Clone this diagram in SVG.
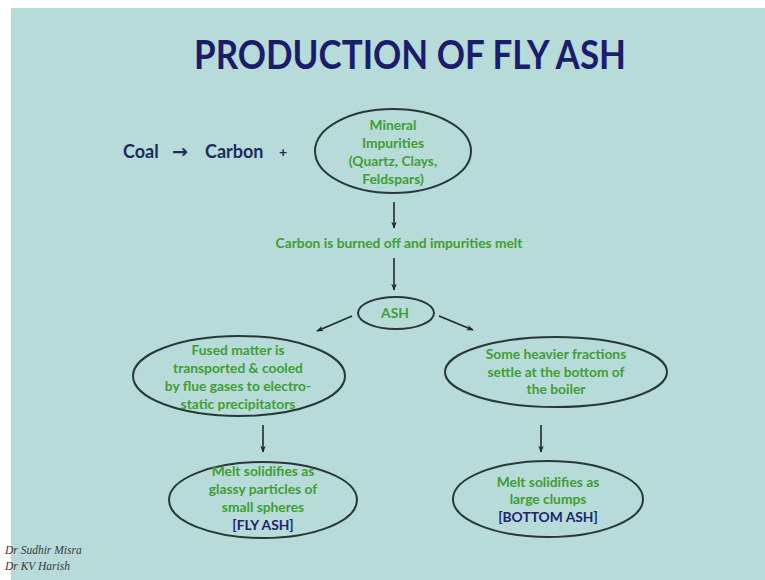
<svg xmlns="http://www.w3.org/2000/svg" width="765" height="580" viewBox="0 0 765 580">
<defs>
<marker id="ah" viewBox="0 0 10 10" refX="9" refY="5" markerWidth="7" markerHeight="7" orient="auto" markerUnits="userSpaceOnUse">
<path d="M0,1 L10,5 L0,9 L3,5 Z" fill="#1e2a2a"/>
</marker>
<style>
.bg{fill:#b6dbd8}
.el{fill:none;stroke:#283838;stroke-width:2}
.g{font-family:Lato,"Open Sans","DejaVu Sans",sans-serif;font-weight:bold;font-size:13.8px;fill:#3f9e32;text-anchor:middle}
.n{font-family:Lato,"Open Sans","DejaVu Sans",sans-serif;font-weight:bold;font-size:13.8px;fill:#1e2470;text-anchor:middle}
.c{stroke:#1e2a2a;stroke-width:1.6;fill:none;marker-end:url(#ah)}
.t{font-family:Lato,"Open Sans",sans-serif;font-weight:bold;font-size:40px;fill:#1c1c6c;text-anchor:middle}
.f{font-family:"Liberation Serif","Times New Roman",serif;font-style:italic;font-size:11.5px;fill:#3a3a3a}
.k{font-family:Lato,"DejaVu Sans",sans-serif;font-weight:bold;font-size:18px;fill:#1f2a5e}
</style>
</defs>
<rect width="765" height="580" fill="#ffffff"/>
<rect class="bg" x="11" y="8" width="754" height="572"/>
<text class="t" x="410" y="69" textLength="432" lengthAdjust="spacingAndGlyphs">PRODUCTION OF FLY ASH</text>
<g id="coal">
<text class="k" x="123" y="158">Coal</text>
<text class="k" x="172" y="158" style="font-family:'DejaVu Sans',sans-serif;font-size:19px">→</text>
<text class="k" x="205" y="158">Carbon</text>
<text class="k" x="279" y="157" style="font-size:14px">+</text>
</g>
<g id="mineral">
<ellipse class="el" cx="393" cy="151" rx="78" ry="42"/>
<text class="g" x="393" y="130">Mineral</text>
<text class="g" x="393" y="148">Impurities</text>
<text class="g" x="393" y="166">(Quartz, Clays,</text>
<text class="g" x="393" y="184">Feldspars)</text>
</g>
<g id="burn">
<text class="g" x="399" y="248">Carbon is burned off and impurities melt</text>
</g>
<g id="ash">
<ellipse class="el" cx="396" cy="313" rx="38" ry="16"/>
<text class="g" x="395" y="318">ASH</text>
</g>
<g id="fused">
<ellipse class="el" cx="239" cy="376" rx="106" ry="40"/>
<text class="g" x="238" y="355">Fused matter is</text>
<text class="g" x="238" y="373">transported &amp; cooled</text>
<text class="g" x="238" y="391">by flue gases to electro-</text>
<text class="g" x="238" y="409">static precipitators</text>
</g>
<g id="heavier">
<ellipse class="el" cx="556" cy="372" rx="111" ry="35"/>
<text class="g" x="556" y="359">Some heavier fractions</text>
<text class="g" x="556" y="377">settle at the bottom of</text>
<text class="g" x="556" y="394">the boiler</text>
</g>
<g id="flyash">
<ellipse class="el" cx="263" cy="500" rx="94" ry="38"/>
<text class="g" x="263" y="476">Melt solidifies as</text>
<text class="g" x="263" y="494">glassy particles of</text>
<text class="g" x="263" y="512">small spheres</text>
<text class="n" x="263" y="530">[FLY ASH]</text>
</g>
<g id="bottomash">
<ellipse class="el" cx="548" cy="499" rx="95" ry="38"/>
<text class="g" x="548" y="487">Melt solidifies as</text>
<text class="g" x="548" y="504">large clumps</text>
<text class="n" x="548" y="522">[BOTTOM  ASH]</text>
</g>
<g id="connectors">
<line class="c" x1="394" y1="202" x2="394" y2="228"/>
<line class="c" x1="394" y1="258" x2="394" y2="290"/>
<line class="c" x1="352" y1="316" x2="317" y2="331"/>
<line class="c" x1="439" y1="316" x2="473" y2="330"/>
<line class="c" x1="263" y1="425" x2="263" y2="452"/>
<line class="c" x1="541" y1="425" x2="541" y2="452"/>
</g>
<text class="f" x="5" y="554">Dr Sudhir Misra</text>
<text class="f" x="5" y="570">Dr KV Harish</text>
</svg>
